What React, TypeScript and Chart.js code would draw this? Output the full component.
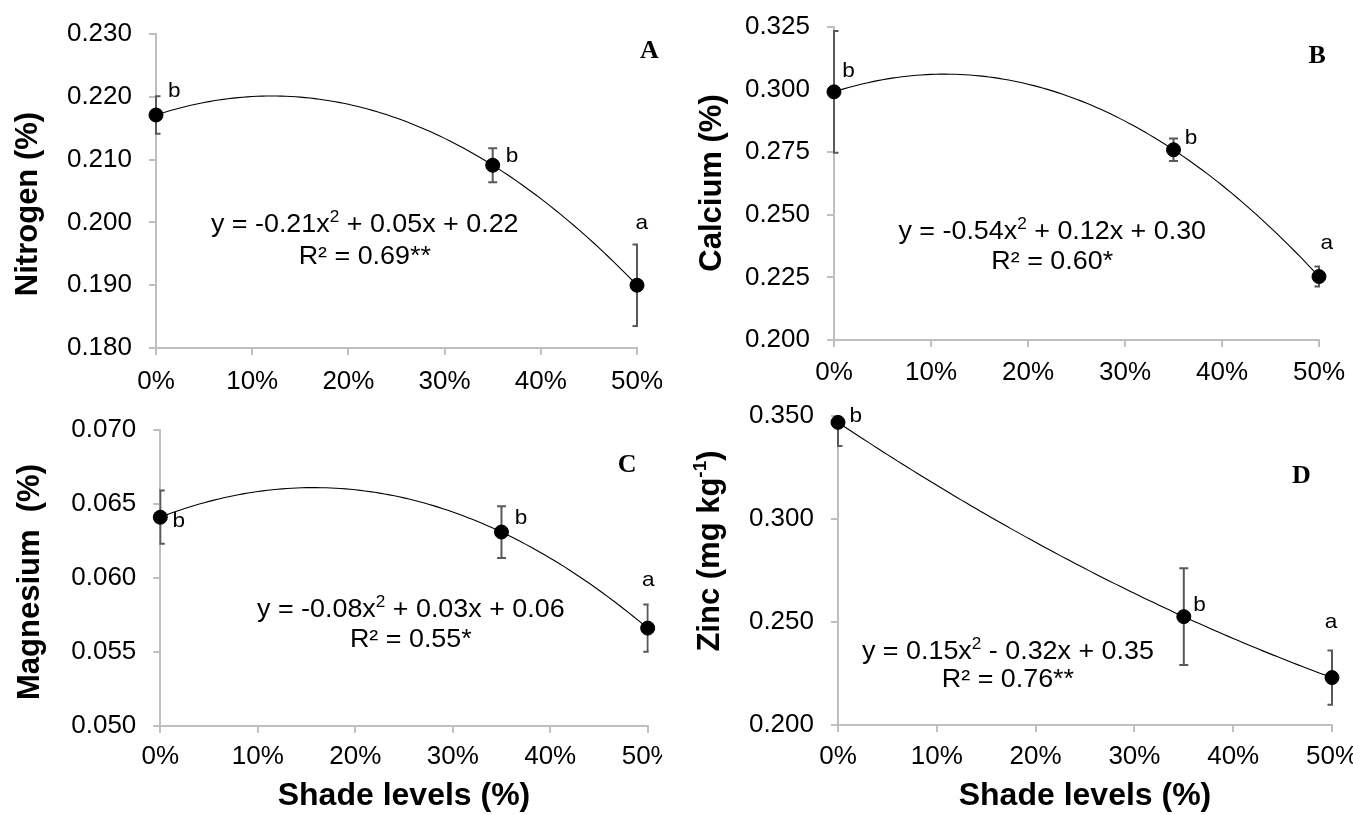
import React, { useEffect, useRef } from 'react';
import { Chart, registerables } from 'chart.js';

Chart.register(...registerables);

// ---------------- data ----------------
const SHADE_LEVELS = [0, 35, 50];
const X_TICKS = [0, 10, 20, 30, 40, 50];
const X_TITLE = 'Shade levels (%)';

// A - Nitrogen
const N_MEAN = [0.2171, 0.2091, 0.19];
const N_ERR = [0.003, 0.0027, 0.0065];
const N_TREND = [-0.209, 0.0503, 0.2171];
const N_TICKS = [0.18, 0.19, 0.2, 0.21, 0.22, 0.23];
const N_LETTERS = ['b', 'b', 'a'];
const N_EQ: [string, number][] = [['y = -0.21x', 0], ['2', 1], [' + 0.05x + 0.22', 0]];
const N_R2 = 'R² = 0.69**';
const N_TITLE: [string, number][] = [['Nitrogen (%)', 0]];

// B - Calcium
const CA_MEAN = [0.299, 0.2759, 0.2253];
const CA_ERR = [0.0243, 0.0045, 0.004];
const CA_TREND = [-0.5427, 0.1239, 0.299];
const CA_TICKS = [0.2, 0.225, 0.25, 0.275, 0.3, 0.325];
const CA_LETTERS = ['b', 'b', 'a'];
const CA_EQ: [string, number][] = [['y = -0.54x', 0], ['2', 1], [' + 0.12x + 0.30', 0]];
const CA_R2 = 'R² = 0.60*';
const CA_TITLE: [string, number][] = [['Calcium (%)', 0]];

// C - Magnesium
const MG_MEAN = [0.0641, 0.0631, 0.0566];
const MG_ERR = [0.0018, 0.00175, 0.0016];
const MG_TREND = [-0.081, 0.02548, 0.0641];
const MG_TICKS = [0.05, 0.055, 0.06, 0.065, 0.07];
const MG_LETTERS = ['b', 'b', 'a'];
const MG_EQ: [string, number][] = [['y = -0.08x', 0], ['2', 1], [' + 0.03x + 0.06', 0]];
const MG_R2 = 'R² = 0.55*';
const MG_TITLE: [string, number][] = [['Magnesium  (%)', 0]];

// D - Zinc
const ZN_MEAN = [0.3469, 0.2526, 0.223];
const ZN_ERR = [0.0115, 0.0235, 0.0132];
const ZN_TREND = [0.1441, -0.3199, 0.3469];
const ZN_TICKS = [0.2, 0.25, 0.3, 0.35];
const ZN_LETTERS = ['b', 'b', 'a'];
const ZN_EQ: [string, number][] = [['y = 0.15x', 0], ['2', 1], [' - 0.32x + 0.35', 0]];
const ZN_R2 = 'R² = 0.76**';
const ZN_TITLE: [string, number][] = [['Zinc (mg kg', 0], ['-1', 1], [')', 0]];

// ---------------- layout / style ----------------
const SANS = "'Liberation Sans', Arial, sans-serif";
const SERIF = "'Liberation Serif', 'Times New Roman', serif";
const AXIS_COLOR = '#bfbfbf';
const ERR_COLOR = '#595959';
const TEXT_STRETCH = 1.075;

const PANELS = [
  {
    tag: 'A', left: 0, top: 0, w: 662, h: 395, yW: 156, padTop: 34, padRight: 25, xH: 47, xPad: 11, yPad: 17,
    showXTitle: false, min: 0.18, max: 0.23, dec: 3,
    ticks: N_TICKS, mean: N_MEAN, err: N_ERR, trend: N_TREND, letters: N_LETTERS, eq: N_EQ, r2: N_R2, title: N_TITLE,
    letterAt: [[1.9, 0.2209], [37.0, 0.2106], [50.5, 0.1999]], tagAt: [51.3, 0.2272],
    eqAt: [21.7, 0.1996, 0.1945], titleAt: [28, 204],
  },
  {
    tag: 'B', left: 662, top: 0, w: 691, h: 395, yW: 172, padTop: 26.7, padRight: 34, xH: 55, xPad: 10, yPad: 17,
    showXTitle: false, min: 0.2, max: 0.325, dec: 3,
    ticks: CA_TICKS, mean: CA_MEAN, err: CA_ERR, trend: CA_TREND, letters: CA_LETTERS, eq: CA_EQ, r2: CA_R2, title: CA_TITLE,
    letterAt: [[1.5, 0.3074], [36.8, 0.2805], [50.8, 0.2386]], tagAt: [49.8, 0.313],
    eqAt: [22.5, 0.2432, 0.2312], titleAt: [50, 183],
  },
  {
    tag: 'C', left: 0, top: 395, w: 662, h: 420, yW: 160.3, padTop: 35, padRight: 14.3, xH: 89.3, xPad: 9, yPad: 17,
    showXTitle: true, min: 0.05, max: 0.07, dec: 3,
    ticks: MG_TICKS, mean: MG_MEAN, err: MG_ERR, trend: MG_TREND, letters: MG_LETTERS, eq: MG_EQ, r2: MG_R2, title: MG_TITLE,
    letterAt: [[1.9, 0.0638], [37.0, 0.06403], [50.05, 0.05981]], tagAt: [47.9, 0.06763],
    eqAt: [25.7, 0.05783, 0.0558], titleAt: [30, 187],
  },
  {
    tag: 'D', left: 662, top: 395, w: 691, h: 420, yW: 176, padTop: 21, padRight: 21, xH: 90, xPad: 9, yPad: 17,
    showXTitle: true, min: 0.2, max: 0.35, dec: 3,
    ticks: ZN_TICKS, mean: ZN_MEAN, err: ZN_ERR, trend: ZN_TREND, letters: ZN_LETTERS, eq: ZN_EQ, r2: ZN_R2, title: ZN_TITLE,
    letterAt: [[1.8, 0.35], [36.6, 0.2583], [49.9, 0.2501]], tagAt: [46.9, 0.3205],
    eqAt: [17.2, 0.2356, 0.2218], titleAt: [48, 156],
  },
];

function drawRich(
  ctx: CanvasRenderingContext2D,
  segs: [string, number][],
  cx: number,
  cy: number,
  size: number,
  weight: string,
  stretch = 1
) {
  const supSize = Math.round(size * 0.62);
  const widths = segs.map(([t, sup]) => {
    ctx.font = `${weight} ${sup ? supSize : size}px ${SANS}`;
    return ctx.measureText(t).width;
  });
  const total = widths.reduce((a, b) => a + b, 0);
  ctx.save();
  ctx.translate(cx, cy);
  ctx.scale(stretch, 1);
  let x = -total / 2;
  ctx.textAlign = 'left';
  ctx.textBaseline = 'middle';
  segs.forEach(([t, sup], i) => {
    ctx.font = `${weight} ${sup ? supSize : size}px ${SANS}`;
    ctx.fillText(t, x, sup ? -size * 0.3 : 0);
    x += widths[i];
  });
  ctx.restore();
}

function trendPoints(coef: number[]) {
  const pts: { x: number; y: number }[] = [];
  for (let s = 0; s <= 50; s += 0.5) {
    const f = s / 100;
    pts.push({ x: s, y: coef[0] * f * f + coef[1] * f + coef[2] });
  }
  return pts;
}

function buildConfig(p: any): any {
  const overlay = {
    id: 'overlay' + p.tag,
    beforeDatasetsDraw(chart: any) {
      const { ctx, chartArea: a } = chart;
      const xs = chart.scales.x;
      const ys = chart.scales.y;
      ctx.save();
      ctx.beginPath();
      ctx.rect(a.left - 1, a.top - 1, a.right - a.left + 2, a.bottom - a.top + 2);
      ctx.clip();
      ctx.strokeStyle = ERR_COLOR;
      ctx.lineWidth = 2;
      SHADE_LEVELS.forEach((lv, i) => {
        const px = xs.getPixelForValue(lv);
        const t = ys.getPixelForValue(p.mean[i] + p.err[i]);
        const b = ys.getPixelForValue(p.mean[i] - p.err[i]);
        ctx.beginPath();
        ctx.moveTo(px, t); ctx.lineTo(px, b);
        ctx.moveTo(px - 4.5, t); ctx.lineTo(px + 4.5, t);
        ctx.moveTo(px - 4.5, b); ctx.lineTo(px + 4.5, b);
        ctx.stroke();
      });
      ctx.restore();
    },
    afterDatasetsDraw(chart: any) {
      const { ctx } = chart;
      const xs = chart.scales.x;
      const ys = chart.scales.y;
      ctx.save();
      ctx.fillStyle = '#000';
      // significance letters
      p.letters.forEach((l: string, i: number) => {
        const [lx, ly] = p.letterAt[i];
        drawRich(ctx, [[l, 0]], xs.getPixelForValue(lx), ys.getPixelForValue(ly), 21, 'normal', TEXT_STRETCH);
      });
      // panel tag
      ctx.font = `bold 26px ${SERIF}`;
      ctx.textAlign = 'center';
      ctx.textBaseline = 'middle';
      ctx.fillText(p.tag, xs.getPixelForValue(p.tagAt[0]), ys.getPixelForValue(p.tagAt[1]));
      // equation
      const ex = xs.getPixelForValue(p.eqAt[0]);
      drawRich(ctx, p.eq, ex, ys.getPixelForValue(p.eqAt[1]), 25, 'normal', TEXT_STRETCH);
      drawRich(ctx, [[p.r2, 0]], ex, ys.getPixelForValue(p.eqAt[2]), 25, 'normal', TEXT_STRETCH);
      // y title
      ctx.translate(p.titleAt[0], p.titleAt[1]);
      ctx.rotate(-Math.PI / 2);
      drawRich(ctx, p.title, 0, 0, 31, 'bold');
      ctx.restore();
    },
  };

  return {
    type: 'scatter',
    data: {
      datasets: [
        {
          data: SHADE_LEVELS.map((s, i) => ({ x: s, y: p.mean[i] })),
          backgroundColor: '#000',
          borderColor: '#000',
          borderWidth: 1,
          pointRadius: 7,
          clip: false,
          order: 0,
        },
        {
          data: trendPoints(p.trend),
          showLine: true,
          borderColor: '#000',
          borderWidth: 1.1,
          pointRadius: 0,
          order: 1,
        },
      ],
    },
    options: {
      animation: false,
      responsive: false,
      maintainAspectRatio: false,
      events: [],
      layout: { padding: { left: 0, top: p.padTop, right: p.padRight, bottom: 0 } },
      plugins: { legend: { display: false }, tooltip: { enabled: false } },
      scales: {
        x: {
          type: 'linear',
          min: 0,
          max: 50,
          afterBuildTicks: (ax: any) => { ax.ticks = X_TICKS.map((v) => ({ value: v })); },
          afterFit: (ax: any) => { ax.height = p.xH; ax.paddingLeft = 0; ax.paddingRight = 0; },
          ticks: {
            callback: (v: any) => `${v}%`,
            font: { family: SANS, size: 26 },
            color: '#000',
            padding: p.xPad,
            maxRotation: 0,
            autoSkip: false,
          },
          grid: { drawOnChartArea: false, drawTicks: true, tickLength: 7, color: AXIS_COLOR, lineWidth: 2 },
          border: { display: true, color: AXIS_COLOR, width: 2 },
          title: {
            display: p.showXTitle,
            text: X_TITLE,
            font: { family: SANS, size: 32, weight: 'bold' },
            color: '#000',
            padding: { top: 0, bottom: 0 },
          },
        },
        y: {
          type: 'linear',
          min: p.min,
          max: p.max,
          afterBuildTicks: (ax: any) => { ax.ticks = p.ticks.map((v: number) => ({ value: v })); },
          afterFit: (ax: any) => { ax.width = p.yW; ax.paddingTop = 0; ax.paddingBottom = 0; },
          ticks: {
            callback: (v: any) => Number(v).toFixed(p.dec),
            font: { family: SANS, size: 26 },
            color: '#000',
            padding: p.yPad,
            autoSkip: false,
          },
          grid: { drawOnChartArea: false, drawTicks: true, tickLength: 7, color: AXIS_COLOR, lineWidth: 2 },
          border: { display: true, color: AXIS_COLOR, width: 2 },
        },
      },
    },
    plugins: [overlay],
  };
}

function Panel({ p }: { p: any }) {
  const ref = useRef<HTMLCanvasElement>(null);
  useEffect(() => {
    if (!ref.current) return;
    const chart = new Chart(ref.current, buildConfig(p));
    return () => chart.destroy();
  }, [p]);
  return (
    <canvas
      ref={ref}
      width={p.w}
      height={p.h}
      style={{ position: 'absolute', left: p.left, top: p.top, width: p.w, height: p.h, display: 'block' }}
    />
  );
}

export default function App() {
  return (
    <div style={{ position: 'absolute', left: 0, top: 0, width: 1353, height: 815, background: '#fff', overflow: 'hidden' }}>
      {PANELS.map((p) => (
        <Panel key={p.tag} p={p} />
      ))}
    </div>
  );
}
